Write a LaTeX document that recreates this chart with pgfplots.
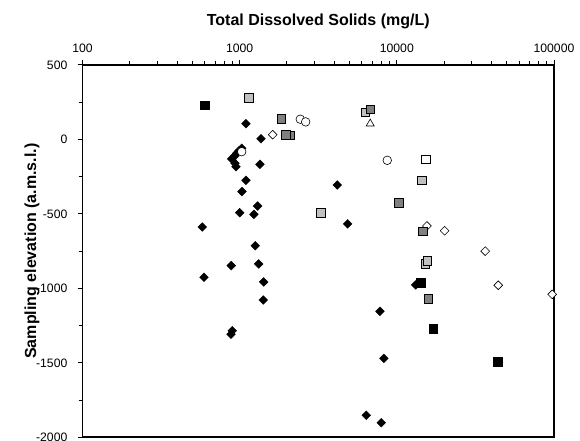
\documentclass[border=0pt]{standalone}
\usepackage{fontspec}
\setmainfont{Liberation Sans}
\usepackage{pgfplots}
\pgfplotsset{compat=1.18}
\definecolor{dgray}{RGB}{128,128,128}
\definecolor{lgray}{RGB}{192,192,192}
\begin{document}
\begin{tikzpicture}
\path[use as bounding box] (-82.5bp,-3.7bp) rectangle (497.5bp,437.3bp);
\begin{axis}[
  at={(0,0)}, anchor=south west,
  scale only axis, width=471.5bp, height=372.3bp,
  xmode=log, xmin=100, xmax=100000, ymin=-2000, ymax=500,
  clip=false,
  axis line style={line width=1.6bp},
  xtick={100,1000,10000,100000}, xticklabels={100,1000,10000,100000},
  minor xtick={200,300,400,500,600,700,800,900,2000,3000,4000,5000,6000,7000,8000,9000,20000,30000,40000,50000,60000,70000,80000,90000},
  ytick={-2000,-1500,-1000,-500,0,500}, yticklabels={-2000,-1500,-1000,-500,0,500},
  minor ytick={-1750,-1250,-750,-250,250},
  xtick pos=right, xticklabel pos=right,
  ytick pos=left, yticklabel pos=left,
  tick align=outside,
  major tick length=5bp, minor tick length=4bp,
  every tick/.style={black, line width=1bp},
  tick label style={font=\fontsize{12.2bp}{14bp}\selectfont},
  xticklabel style={anchor=south, inner sep=0pt, yshift=7bp},
  yticklabel style={anchor=east, inner sep=0pt, xshift=-10bp},
  xlabel={\bfseries Total Dissolved Solids (mg/L)},
  ylabel={\bfseries Sampling elevation (a.m.s.l.)},
  label style={font=\fontsize{16bp}{18bp}\selectfont\bfseries},
  xlabel style={at={(axis description cs:0.5,1.1074)}, anchor=base, inner sep=0pt},
  ylabel style={at={(axis description cs:-0.0986,0.5)}, anchor=base, inner sep=0pt},
  every axis plot/.append style={only marks},
]
% black diamonds
\addplot[mark=square*, mark size=3.1bp, mark options={rotate=45, fill=black, draw=black}] table {
x y
1096 106
1366 5
1030 -59
990 -77
957 -93
930 -111
889 -131
934 -160
948 -183
1346 -167
1096 -274
1034 -350
1301 -447
1000 -492
1233 -503
578 -588
1257 -714
1321 -836
884 -847
593 -925
1421 -957
1413 -1078
897 -1284
880 -1308
4178 -306
4865 -567
13170 -977
7807 -1154
8280 -1470
6385 -1852
7960 -1902
};
% white diamonds
\addplot[mark=square*, mark size=3.1bp, mark options={rotate=45, fill=white, draw=black, line width=0.6bp}] table {
x y
1622 32
15540 -581
20140 -613
36500 -750
44200 -979
97400 -1040
};
% white circles
\addplot[mark=*, mark size=4.3bp, mark options={fill=white, draw=black, line width=0.6bp}] table {
x y
2430 136
2630 118
1030 -82
8690 -140
};
% white triangle
\addplot[mark=triangle*, mark size=4.6bp, mark options={fill=white, draw=black, line width=0.6bp}] table {
x y
6770 106
};
% light gray squares
\addplot[mark=square*, mark size=4.4bp, mark options={fill=lgray, draw=black, line width=0.6bp}] table {
x y
1141 281
6295 183
3275 -494
14450 -274
15170 -836
15610 -814
};
% dark gray squares
\addplot[mark=square*, mark size=4.4bp, mark options={fill=dgray, draw=black, line width=0.6bp}] table {
x y
1840 138
2090 28
1970 32
6770 203
10310 -426
14590 -617
15850 -1071
};
% black squares
\addplot[mark=square*, mark size=4.4bp, mark options={fill=black, draw=black}] table {
x y
596 230
14170 -964
17040 -1273
43970 -1492
};
% white square
\addplot[mark=square*, mark size=4.4bp, mark options={fill=white, draw=black, line width=0.6bp}] table {
x y
15310 -133
};
\end{axis}
\end{tikzpicture}
\end{document}
